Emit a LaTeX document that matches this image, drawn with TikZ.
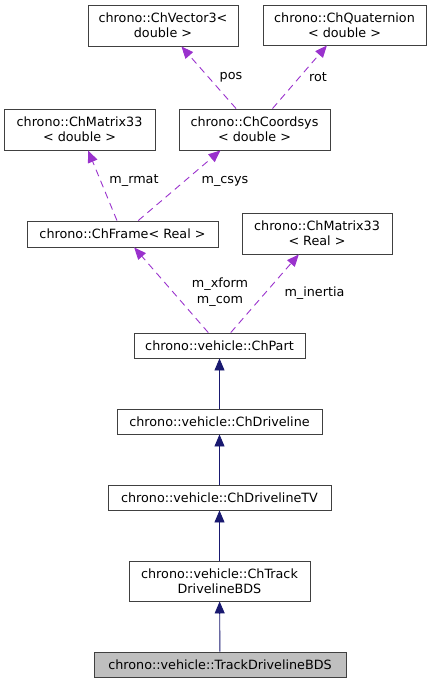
\documentclass[tikz,border=0pt]{standalone}
\usepackage{fontspec}
\setmainfont{DejaVu Sans}
\usetikzlibrary{arrows.meta,calc}
\definecolor{edgeblue}{HTML}{191970}
\definecolor{edgepurple}{HTML}{9A32CD}
\definecolor{boxgray}{HTML}{BFBFBF}
\definecolor{boxline}{HTML}{404040}
\begin{document}
\begin{tikzpicture}[x=1bp, y=-1bp,
  cls/.style={draw=boxline, line width=0.9bp, fill=white, align=center, inner sep=0pt,
    font=\fontsize{12.8}{15}\selectfont},
  lbl/.style={align=center, inner sep=0pt, font=\fontsize{12.8}{16}\selectfont},
  inherit/.style={draw=edgeblue, line width=0.9bp, -{Triangle[length=12bp,width=10bp]}},
  usage/.style={draw=edgepurple, line width=0.9bp, dash pattern=on 7bp off 5bp,
    -{Triangle[length=12bp,width=10bp]}}]
\useasboundingbox (0,0) rectangle (432,683);
\node[cls, minimum width=150bp, minimum height=41bp] (vec) at (163,25.5){chrono::ChVector3<\\double >};
\node[cls, minimum width=163bp, minimum height=40bp] (quat) at (344.5,25){chrono::ChQuaternion\\< double >};
\node[cls, minimum width=151bp, minimum height=41bp] (mat33d) at (79.5,129.5){chrono::ChMatrix33\\< double >};
\node[cls, minimum width=151bp, minimum height=41bp] (coord) at (254.5,129.5){chrono::ChCoordsys\\< double >};
\draw[usage](coord) -- (vec);
\draw[usage](coord) -- (quat);
\node[lbl] (lpos) at (231,77){pos};
\node[lbl] (lrot) at (318,77){rot};
\node[cls, minimum width=191bp, minimum height=26bp] (frame) at (122.5,234){chrono::ChFrame< Real >};
\node[cls, minimum width=150bp, minimum height=41bp] (mat33r) at (317,233.5){chrono::ChMatrix33\\< Real >};
\draw[usage](frame) -- (mat33d);
\draw[usage](frame) -- ($(coord.south)+(-34,0)$);
\node[lbl] (lrmat) at (134,181){m\_rmat};
\node[lbl] (lcsys) at (225,181){m\_csys};
\node[cls, minimum width=171bp, minimum height=25bp] (part) at (219.5,345.5){chrono::vehicle::ChPart};
\draw[usage](part) -- (frame);
\draw[usage](part) -- (mat33r);
\node[lbl] (lxform) at (220,292){m\_xform\\m\_com};
\node[lbl] (linertia) at (314.5,293){m\_inertia};
\node[cls, minimum width=205bp, minimum height=25bp] (dl) at (219.5,421.5){chrono::vehicle::ChDriveline};
\node[cls, minimum width=223bp, minimum height=25bp] (dltv) at (219.5,497.5){chrono::vehicle::ChDrivelineTV};
\node[cls, minimum width=181bp, minimum height=40bp] (tdbds) at (219.5,581){chrono::vehicle::ChTrack\\DrivelineBDS};
\node[cls, fill=boxgray, minimum width=252bp, minimum height=25bp] (bds) at (220,664.5){chrono::vehicle::TrackDrivelineBDS};
\draw[inherit](dl) -- (part);
\draw[inherit](dltv) -- (dl);
\draw[inherit](tdbds) -- (dltv);
\draw[inherit](bds) -- (tdbds);
\end{tikzpicture}
\end{document}
